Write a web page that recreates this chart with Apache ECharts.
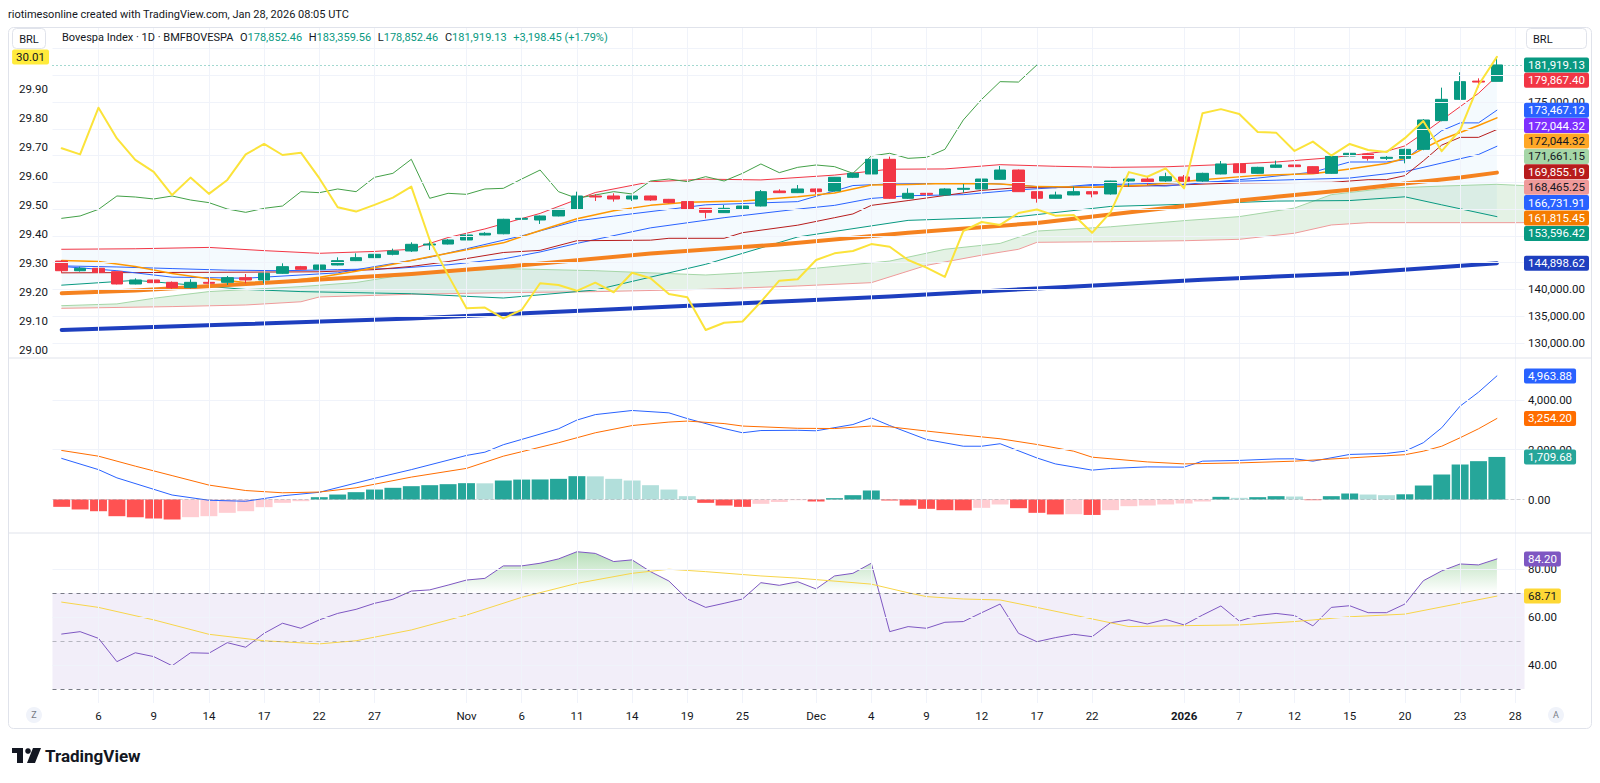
<!DOCTYPE html>
<html lang="en">
<head>
<meta charset="UTF-8">
<title>Bovespa Index · 1D · BMFBOVESPA</title>
<script src="https://cdn.jsdelivr.net/npm/echarts@6.0.0/dist/echarts.min.js"></script>
<style>
  body { margin: 0; padding: 0; background: #fff; }
  #main { width: 1600px; height: 783px; }
</style>
</head>
<body>
<div id="main"></div>
<script type="text/javascript">
// trading days (the last one is the empty slot after the last bar)
var dates = [
  '2025-10-02','2025-10-03','2025-10-06','2025-10-07','2025-10-08','2025-10-09','2025-10-10',
  '2025-10-13','2025-10-14','2025-10-15','2025-10-16','2025-10-17',
  '2025-10-20','2025-10-21','2025-10-22','2025-10-23','2025-10-24',
  '2025-10-27','2025-10-28','2025-10-29','2025-10-30','2025-10-31',
  '2025-11-03','2025-11-04','2025-11-05','2025-11-06','2025-11-07',
  '2025-11-10','2025-11-11','2025-11-12','2025-11-13','2025-11-14',
  '2025-11-17','2025-11-18','2025-11-19','2025-11-21',
  '2025-11-24','2025-11-25','2025-11-26','2025-11-27','2025-11-28',
  '2025-12-01','2025-12-02','2025-12-03','2025-12-04','2025-12-05',
  '2025-12-08','2025-12-09','2025-12-10','2025-12-11','2025-12-12',
  '2025-12-15','2025-12-16','2025-12-17','2025-12-18','2025-12-19',
  '2025-12-22','2025-12-23','2025-12-26','2025-12-29','2025-12-30',
  '2026-01-02','2026-01-05','2026-01-06','2026-01-07','2026-01-08','2026-01-09',
  '2026-01-12','2026-01-13','2026-01-14','2026-01-15','2026-01-16',
  '2026-01-19','2026-01-20','2026-01-21','2026-01-22','2026-01-23',
  '2026-01-26','2026-01-27','2026-01-28'
];
var tickDates = ['2025-10-06','2025-10-09','2025-10-14','2025-10-17','2025-10-22','2025-10-27',
  '2025-11-03','2025-11-06','2025-11-11','2025-11-14','2025-11-19','2025-11-25',
  '2025-12-01','2025-12-04','2025-12-09','2025-12-12','2025-12-17','2025-12-22',
  '2026-01-02','2026-01-07','2026-01-12','2026-01-15','2026-01-20','2026-01-23','2026-01-28'];
var tickTexts = ['6','9','14','17','22','27','Nov','6','11','14','19','25',
  'Dec','4','9','12','17','22','2026','7','12','15','20','23','28'];

// daily candles
var opens = [145300,143500,143950,143320,141020,141770,141330,140340,141330,141330,
  142200,141770,143010,144260,143760,144570,145380,145940,146560,147180,
  148300,148480,149240,150170,150400,153100,152970,153720,154960,157450,
  157450,156890,157450,156830,156400,155150,154340,154960,155580,158380,
  158070,158760,158380,160940,161560,164300,157020,157950,157640,158700,
  158760,160560,162300,158260,157020,157640,158260,157830,160250,160620,
  160250,161000,160250,161560,163430,161680,162800,163240,162930,161680,
  164920,165290,164480,164480,166160,171520,175500,178900,178852.46];
var highs = [145450,144250,144380,143350,142080,142890,141500,141900,142080,142520,
  142890,143100,144880,144400,144700,146000,146750,147680,147620,148800,
  149100,149400,150300,150700,153200,154090,153800,155000,158260,157820,
  157950,157500,157500,156900,156400,155200,155770,155960,158570,158700,
  159500,158820,161000,161800,164400,164800,158880,158880,158900,159690,
  161180,163050,162400,158300,158260,159190,158300,160300,160700,161190,
  161800,161370,161800,163980,163450,162900,164050,163300,163000,165000,
  166040,165500,164980,166300,171800,177680,180540,179420,183359.56];
var lows = [143100,143330,143150,140950,140950,141200,139900,140200,141000,140840,
  141150,141150,142900,143700,143600,144500,145300,145900,146370,147000,
  147370,148400,149100,150100,150300,152950,152230,153650,154900,156520,
  156400,156520,156520,156100,154900,153280,154300,154650,155500,158000,
  158000,157830,158300,160800,161500,156900,156900,154960,157500,158070,
  158700,160500,158200,156210,156950,157600,157200,157700,159200,159500,
  160100,159800,160100,161500,161700,161600,162700,162300,161600,161600,
  164800,164050,164170,163550,166000,171400,175400,177740,178852.46];
var closes = [143500,143950,143200,141020,141770,141270,140340,141330,141150,142200,
  141770,143010,144260,143760,144570,145380,145940,146560,147180,148430,
  148480,149240,150170,150480,153100,153280,153720,154960,157450,157260,
  156890,157450,156700,156210,155020,154400,155150,155580,158260,158070,
  158760,158260,160940,161680,164300,157020,157950,157760,158760,158880,
  160620,162300,158260,157020,157640,158260,157830,160250,160620,160130,
  161060,160250,161680,163430,161810,162800,163240,162930,161680,164920,
  165420,164480,164670,166160,171640,175500,178800,178720.68,181919.13];

// yellow overlay on the left scale
var overlay = [29.695,29.674,29.835,29.729,29.655,29.614,29.534,29.594,29.538,29.586,
  29.674,29.710,29.672,29.680,29.592,29.492,29.477,29.500,29.525,29.563,
  29.379,29.258,29.144,29.146,29.109,29.138,29.230,29.224,29.204,29.232,
  29.199,29.266,29.247,29.193,29.182,29.069,29.094,29.098,29.166,29.239,
  29.244,29.310,29.333,29.341,29.365,29.356,29.310,29.284,29.252,29.410,
  29.441,29.431,29.472,29.484,29.463,29.465,29.404,29.474,29.613,29.597,
  29.626,29.557,29.816,29.830,29.813,29.751,29.749,29.686,29.718,29.670,
  29.710,29.689,29.682,29.730,29.789,29.685,29.758,29.913,30.01];

// indicator lines, [bar index, value]
var bbUpper = [[0,147500],[4,147600],[8,147850],[11,147250],[14,146750],[17,147100],[19,147500],[21,149700],[23,151300],[26,154200],[29,158100],[32,160100],[35,160600],[38,160450],[42,161350],[45,162450],[48,162500],[51,163300],[54,163000],[57,162800],[60,162900],[63,163300],[66,163800],[69,164600],[72,165800],[73,166800],[74,169150],[75,171640],[76,174130],[77,176620],[78,179867]];
var bbBasis = [[0,144400],[3,144200],[6,143900],[9,143600],[12,143500],[15,143700],[18,143900],[21,144600],[24,145700],[26,147000],[28,148600],[32,151500],[36,153400],[40,155000],[42,155700],[44,157000],[46,157500],[49,157700],[52,158600],[57,159600],[61,159950],[66,160400],[70,160800],[73,162000],[75,163600],[77,165200],[78,166732]];
var bbLower = [[0,140800],[4,141700],[10,140000],[13,139600],[19,139200],[24,138400],[29,139900],[35,144700],[40,149800],[46,152900],[52,153600],[57,155500],[61,155900],[66,156500],[70,156600],[73,157300],[75,155800],[78,153596]];
var tenkan = [[0,144300],[3,143500],[6,142300],[10,142100],[15,143100],[20,146000],[25,150000],[28,152800],[30,153700],[35,155800],[40,156400],[43,159400],[45,159700],[50,159900],[54,159000],[56,159600],[60,159300],[65,160800],[68,161900],[70,163800],[72,163800],[73,164200],[74,167000],[75,169650],[76,171100],[77,171100],[78,173467]];
var kijun = [[0,143100],[8,143200],[14,143300],[17,143700],[19,144300],[21,145200],[24,146900],[26,147300],[28,149100],[32,149200],[33,149550],[36,149550],[37,150600],[40,152000],[42,153400],[43,154100],[44,155700],[46,156600],[50,158500],[52,159000],[56,159050],[61,159550],[64,159900],[69,160000],[71,160500],[72,160500],[73,161250],[74,164000],[75,166950],[76,168400],[77,168400],[78,169855]];
var leadA = [[0,136970],[3,137300],[5,138350],[6,138780],[8,139600],[13,140530],[16,141300],[18,142400],[21,143300],[24,143900],[29,143500],[35,142700],[40,143640],[45,145300],[48,147500],[51,148600],[53,150900],[57,151700],[61,152850],[64,153600],[67,155200],[69,157700],[72,158900],[75,159300],[78,159630],[80,159300]];
var leadB = [[0,136480],[6,136800],[10,137100],[13,137700],[14,138600],[19,139100],[24,139400],[29,139590],[35,140030],[40,140650],[44,141270],[47,144500],[50,146400],[52,147500],[53,148800],[57,148920],[61,149100],[64,149360],[67,150500],[69,152040],[71,152470],[80,152470]];
var emaFast = [[0,145400],[2,145200],[4,144300],[6,143000],[8,142000],[10,141300],[12,141500],[14,142300],[16,143400],[18,144700],[20,146100],[22,147400],[24,148700],[26,151000],[28,153200],[30,154700],[32,155700],[34,156300],[37,156500],[40,157300],[42,158000],[44,159500],[46,159600],[48,159800],[51,159700],[53,159200],[56,159100],[59,159500],[62,160500],[65,161300],[68,161600],[70,162500],[72,163500],[73,164500],[74,166300],[75,168000],[76,169300],[77,170600],[78,172044]];
var sma50 = [[0,139300],[4,139800],[10,141000],[19,142900],[25,144500],[32,146700],[39,148400],[46,150600],[53,152400],[61,155600],[66,157300],[70,158600],[73,159800],[76,160900],[78,161815]];
var sma200 = [[0,132450],[10,133550],[19,134600],[30,136300],[40,137900],[45,138700],[53,140200],[62,141800],[70,143000],[78,144899]];
var laggingShift = 25;

// MACD pane
var macdLine = [[0,1650],[2,1200],[3,870],[6,180],[8,-30],[10,-70],[12,150],[14,290],[17,850],[19,1200],[22,1770],[23,1900],[24,2200],[27,2840],[28,3190],[29,3410],[31,3575],[33,3480],[34,3250],[36,2850],[37,2680],[38,2770],[40,2780],[41,2760],[43,3010],[44,3280],[45,2970],[47,2410],[49,2140],[50,2140],[51,2240],[53,1670],[54,1430],[56,1180],[57,1245],[59,1310],[61,1300],[62,1540],[64,1570],[66,1630],[67,1635],[68,1540],[70,1810],[72,1850],[73,1940],[74,2280],[75,2880],[76,3750],[77,4310],[78,4963.88]];
var macdSignal = [[0,1970],[2,1740],[4,1340],[6,960],[8,580],[10,360],[12,270],[14,300],[16,470],[19,900],[22,1250],[24,1740],[27,2280],[29,2680],[31,2970],[33,3110],[34,3150],[36,3050],[37,2950],[40,2860],[42,2850],[44,2950],[45,2920],[47,2750],[49,2590],[51,2440],[53,2210],[55,1940],[56,1700],[59,1510],[61,1430],[64,1470],[67,1540],[70,1670],[73,1800],[74,1940],[75,2140],[76,2480],[77,2840],[78,3254.2]];
var macdHist = [-295,-400,-470,-670,-710,-763,-803,-710,-670,-535,
  -470,-308,-134,-67,94,200,295,400,470,535,
  575,616,656,650,763,800,805,830,937,930,
  830,763,575,400,134,-134,-241,-295,-174,-100,
  -27,-80,54,174,362,-40,-241,-375,-428,-435,
  -335,-200,-348,-535,-600,-590,-620,-428,-268,-241,
  -200,-160,-80,107,67,94,134,120,-27,134,
  241,200,174,210,562,1004,1406,1540,1709.68];

// RSI pane
var rsi = [52.9,53.9,51.1,41.4,45.1,43.5,39.7,45.1,44.9,49.3,
  47.4,53.2,57.4,55.3,58.8,61.5,63.2,65.7,67.4,70.8,
  71.3,73.3,75.4,76.1,81.3,81.3,82.4,84.2,87.2,86.5,
  83.1,83.8,78.9,75.0,67.5,64.0,65.7,67.5,74.3,73.2,
  74.7,71.7,77.1,78.2,82.4,53.9,56.0,55.3,57.8,58.1,
  61.8,65.4,53.2,49.7,51.4,52.8,51.8,57.6,58.8,57.1,
  59.0,56.7,60.8,64.6,58.3,60.6,61.5,60.6,56.3,64.0,
  64.7,61.8,61.8,65.4,75.1,79.2,82.1,81.7,84.2];
var rsiMa = [[0,66.2],[2,64.0],[5,58.8],[8,52.8],[11,50.1],[14,48.8],[16,50.1],[19,54.6],[22,60.8],[25,68.2],[28,74.0],[31,78.2],[33,79.9],[35,78.9],[38,77.1],[40,76.2],[44,73.7],[46,70.1],[47,68.5],[49,67.5],[51,67.1],[53,64.0],[55,60.8],[58,56.0],[61,56.4],[64,56.7],[67,58.1],[70,60.1],[73,61.2],[76,65.7],[78,68.71]];

// scale levels and price tags
var priceGridLevels = [130000,135000,140000,145000,150000,155000,160000,165000,170000,175000,180000,185000];
var priceAxisLabels = [130000,135000,140000,175000];
var leftAxisLabels = [29.0,29.1,29.2,29.3,29.4,29.5,29.6,29.7,29.8,29.9];
var macdGridLevels = [2000,4000];
var macdAxisLabels = [0,2000,4000];
var rsiGridLevels = [40,60,80];
var rsiAxisLabels = [40,60,80];
var priceTags = [
  [181919.13,'#089981','#ffffff'],[179867.40,'#F23645','#ffffff'],[173467.12,'#2962FF','#ffffff'],
  [172044.32,'#7E2FFF','#ffffff'],[172044.32,'#FFA726','#131722'],[171661.15,'#A5D6A7','#131722'],
  [169855.19,'#B71C1C','#ffffff'],[168465.25,'#EF9A9A','#131722'],[166731.91,'#2962FF','#ffffff'],
  [161815.45,'#F57C00','#ffffff'],[153596.42,'#089981','#ffffff'],[144898.62,'#1E3FBF','#ffffff']];
var macdTags = [[4963.88,'#2962FF','#ffffff'],[3254.20,'#FF6D00','#ffffff'],[1709.68,'#26A69A','#ffffff']];
var rsiTags = [[84.20,'#7E57C2','#ffffff'],[68.71,'#FDD835','#131722']];
var overlayTag = [30.01,'#FFEB3B','#131722'];

var FONT = 'Roboto, "Liberation Sans", sans-serif';
var GRID_COLOR = '#f0f3fa';

function fmt(v) { return v.toLocaleString('en-US', {minimumFractionDigits: 2, maximumFractionDigits: 2}); }
function indexed(arr) { return arr.map(function (v, i) { return [i, v]; }); }

function lineSeries(name, data, color, width, z, yIdx, gIdx) {
  return {
    name: name, type: 'line', data: data, xAxisIndex: gIdx || 0, yAxisIndex: yIdx || 0,
    symbol: 'none', z: z, silent: true, animation: false, connectNulls: true,
    lineStyle: {color: color, width: width, cap: 'round', join: 'round'}, itemStyle: {color: color}
  };
}

function bandSeries(upper, lower, fill) {
  return {
    type: 'custom', xAxisIndex: 0, yAxisIndex: 0, z: 1, silent: true, animation: false,
    data: [[0, upper[0][1]]],
    renderItem: function (params, api) {
      var pts = upper.map(function (p) { return api.coord(p); })
        .concat(lower.slice().reverse().map(function (p) { return api.coord(p); }));
      var cs = params.coordSys;
      return {
        type: 'polygon', shape: {points: pts}, style: {fill: fill},
        clipPath: {type: 'rect', shape: {x: cs.x, y: cs.y, width: cs.width, height: cs.height}}
      };
    }
  };
}

function gridHelper(gIdx, yIdx, levels) {
  var d = levels.map(function (v) { return {yAxis: v}; })
    .concat(tickDates.map(function (t) { return {xAxis: t}; }));
  return {
    type: 'line', xAxisIndex: gIdx, yAxisIndex: yIdx, data: [], z: 0, silent: true, animation: false,
    markLine: {symbol: ['none', 'none'], silent: true, animation: false, label: {show: false},
      lineStyle: {color: GRID_COLOR, width: 1, type: 'solid'}, data: d}
  };
}

function histColor(i) {
  var v = macdHist[i], prev = i > 0 ? macdHist[i - 1] : 0;
  if (v >= 0) return v > prev ? '#26A69A' : '#B2DFDB';
  return v < prev ? '#FF5252' : '#FFCDD2';
}

var lagging = closes.slice(laggingShift).map(function (v, i) { return [i, v]; });
var candleData = opens.map(function (o, i) { return [o, closes[i], lows[i], highs[i]]; });
var lastPrice = closes[closes.length - 1];

var chart = echarts.init(document.getElementById('main'), null, {renderer: 'svg', width: 1600, height: 783});

var gridBox = {left: 52.5, width: 1472};
var xBase = {type: 'category', data: dates, boundaryGap: true, axisLine: {show: false}, axisTick: {show: false},
  axisLabel: {show: false}, splitLine: {show: false}};

var series = [
  gridHelper(0, 0, priceGridLevels),
  bandSeries(leadA, leadB, 'rgba(67,160,71,0.14)'),
  bandSeries(bbUpper, bbLower, 'rgba(33,150,243,0.05)'),
  lineSeries('Leading Span A', leadA, '#A5D6A7', 1, 2),
  lineSeries('Leading Span B', leadB, '#EF9A9A', 1, 2),
  lineSeries('BB Upper', bbUpper, '#F23645', 1, 2),
  lineSeries('BB Lower', bbLower, '#089981', 1, 2),
  lineSeries('BB Basis', bbBasis, '#2962FF', 1, 2),
  lineSeries('Base Line', kijun, '#B71C1C', 1, 2),
  lineSeries('Conversion Line', tenkan, '#2962FF', 1, 2),
  lineSeries('Lagging Span', lagging, '#43A047', 1, 2),
  lineSeries('EMA', emaFast, '#FF9800', 1.5, 3),
  lineSeries('SMA 50', sma50, '#F5821F', 4, 3),
  lineSeries('SMA 200', sma200, '#1E3FBF', 4, 3),
  {
    name: 'Bovespa Index', type: 'candlestick', xAxisIndex: 0, yAxisIndex: 0, data: candleData,
    barWidth: 12, z: 4, animation: false, silent: true, clip: false,
    itemStyle: {color: '#089981', color0: '#F23645', borderColor: '#089981', borderColor0: '#F23645', borderWidth: 1},
    markLine: {symbol: ['none', 'none'], silent: true, animation: false, label: {show: false},
      lineStyle: {color: 'rgba(8,153,129,0.75)', type: [1, 3], width: 1}, data: [{yAxis: lastPrice}]}
  },
  lineSeries('Overlay', indexed(overlay), '#FBE33A', 2, 5, 1),
  gridHelper(1, 2, macdGridLevels),
  {
    name: 'Histogram', type: 'bar', xAxisIndex: 1, yAxisIndex: 2, barCategoryGap: '8%', z: 2,
    animation: false, silent: true,
    data: macdHist.map(function (v, i) { return {value: v, itemStyle: {color: histColor(i)}}; }),
    markLine: {symbol: ['none', 'none'], silent: true, animation: false, label: {show: false},
      lineStyle: {color: 'rgba(120,123,134,0.35)', type: 'dashed', width: 1}, data: [{yAxis: 0}]}
  },
  lineSeries('MACD', macdLine, '#2962FF', 1, 3, 2, 1),
  lineSeries('Signal', macdSignal, '#FF6D00', 1, 3, 2, 1),
  gridHelper(2, 3, rsiGridLevels)
];

var rsiFill = lineSeries('RSI fill', indexed(rsi), 'rgba(0,0,0,0)', 0, 1, 3, 2);
rsiFill.lineStyle.opacity = 0;
rsiFill.areaStyle = {origin: 70, opacity: 1};
series.push(rsiFill);
var rsiFillIndex = series.length - 1;

var rsiLine = lineSeries('RSI', indexed(rsi), '#7E57C2', 1, 3, 3, 2);
rsiLine.markArea = {silent: true, animation: false, itemStyle: {color: 'rgba(126,87,194,0.1)'},
  data: [[{yAxis: 30}, {yAxis: 70}]]};
rsiLine.markLine = {symbol: ['none', 'none'], silent: true, animation: false, label: {show: false},
  data: [
    {yAxis: 70, lineStyle: {color: '#787B86', type: [4, 4], width: 1}},
    {yAxis: 50, lineStyle: {color: 'rgba(120,123,134,0.5)', type: [4, 4], width: 1}},
    {yAxis: 30, lineStyle: {color: '#787B86', type: [4, 4], width: 1}}
  ]};
series.push(rsiLine);
series.push(lineSeries('RSI-based MA', rsiMa, '#F7D54A', 1, 3, 3, 2));

var option = {
  backgroundColor: '#ffffff',
  animation: false,
  textStyle: {fontFamily: FONT},
  grid: [
    {left: gridBox.left, width: gridBox.width, top: 28, height: 330},
    {left: gridBox.left, width: gridBox.width, top: 358, height: 175},
    {left: gridBox.left, width: gridBox.width, top: 533, height: 170}
  ],
  xAxis: [
    Object.assign({}, xBase, {gridIndex: 0}),
    Object.assign({}, xBase, {gridIndex: 1}),
    Object.assign({}, xBase, {gridIndex: 2, axisLabel: {
      show: true, margin: 7, color: '#131722', fontSize: 11.5, fontFamily: FONT,
      interval: function (i, v) { return tickDates.indexOf(v) >= 0; },
      formatter: function (v) {
        var t = tickTexts[tickDates.indexOf(v)];
        return t === '2026' ? '{b|' + t + '}' : t;
      },
      rich: {b: {fontWeight: 'bold', fontSize: 11.5, color: '#131722', fontFamily: FONT}}
    }})
  ],
  yAxis: [
    {type: 'value', gridIndex: 0, position: 'right', min: 127203, max: 188816, show: false, splitLine: {show: false}},
    {type: 'value', gridIndex: 0, position: 'left', min: 28.9724, max: 30.1096, show: false, splitLine: {show: false}},
    {type: 'value', gridIndex: 1, position: 'right', min: -1345, max: 5683, show: false, splitLine: {show: false}},
    {type: 'value', gridIndex: 2, position: 'right', min: 24.17, max: 95, show: false, splitLine: {show: false}}
  ],
  visualMap: [{
    type: 'continuous', show: false, seriesIndex: rsiFillIndex, dimension: 1, min: 70, max: 100,
    inRange: {color: ['rgba(76,175,80,0)', 'rgba(76,175,80,0.7)']},
    outOfRange: {color: 'rgba(76,175,80,0)'}
  }],
  series: series
};
chart.setOption(option);

// scale labels, tags and frame
var g = [];
function text(x, y, s, o) {
  var st = Object.assign({text: s, fill: '#131722', font: '11.5px ' + FONT, verticalAlign: 'middle', align: 'left'}, o || {});
  return {type: 'text', x: x, y: y, style: st, silent: true, z: 50};
}
function tagEl(x, y, s, bg, fg, align) {
  return text(x, y, s, {fill: fg, backgroundColor: bg, padding: [2, 4, 1, 4], borderRadius: 2, align: align || 'left'});
}
function py(axis, v) { return chart.convertToPixel({yAxisIndex: axis}, v); }

g.push({type: 'rect', shape: {x: 8.5, y: 27.5, width: 1583, height: 701, r: 5}, style: {fill: 'none', stroke: '#e0e3eb', lineWidth: 1}, silent: true, z: 40});
g.push({type: 'line', shape: {x1: 9, y1: 358, x2: 1591, y2: 358}, style: {stroke: '#e0e3eb', lineWidth: 1}, silent: true, z: 40});
g.push({type: 'line', shape: {x1: 9, y1: 533, x2: 1591, y2: 533}, style: {stroke: '#e0e3eb', lineWidth: 1}, silent: true, z: 40});

g.push(text(8, 14, 'riotimesonline created with TradingView.com, Jan 28, 2026 08:05 UTC', {font: '11px ' + FONT}));

// BRL boxes
g.push({type: 'rect', shape: {x: 12.5, y: 28.5, width: 33, height: 20, r: 4}, style: {fill: '#ffffff', stroke: '#e0e3eb'}, silent: true, z: 45});
g.push(text(29, 39, 'BRL', {align: 'center', font: '11px ' + FONT}));
g.push({type: 'rect', shape: {x: 1526.5, y: 28.5, width: 60, height: 20, r: 4}, style: {fill: '#ffffff', stroke: '#e0e3eb'}, silent: true, z: 45});
g.push(text(1533, 39, 'BRL', {font: '11px ' + FONT}));

// legend
var n = closes.length - 1;
var chg = closes[n] - closes[n - 1];
var pct = chg / closes[n - 1] * 100;
g.push({type: 'text', x: 62, y: 37, silent: true, z: 50, style: {
  text: '{t|Bovespa Index · 1D · BMFBOVESPA}  {t|O}{v|' + fmt(opens[n]) + '}  {t|H}{v|' + fmt(highs[n]) +
    '}  {t|L}{v|' + fmt(lows[n]) + '}  {t|C}{v|' + fmt(closes[n]) + '}  {v|+' + fmt(chg) + ' (+' + pct.toFixed(2) + '%)}',
  verticalAlign: 'middle',
  rich: {t: {fill: '#131722', fontSize: 11, fontFamily: FONT}, v: {fill: '#089981', fontSize: 11, fontFamily: FONT}}
}});

// left scale
leftAxisLabels.forEach(function (v) { g.push(text(48, py(1, v), v.toFixed(2), {align: 'right'})); });
g.push(tagEl(49, py(1, overlayTag[0]), overlayTag[0].toFixed(2), overlayTag[1], overlayTag[2], 'right'));

// right scale, price pane
priceAxisLabels.forEach(function (v) { g.push(text(1528, py(0, v), fmt(v))); });
var prevY = -1e9;
priceTags.forEach(function (t) {
  var y = Math.max(py(0, t[0]), prevY + 15.4);
  prevY = y;
  g.push(tagEl(1524, y, fmt(t[0]), t[1], t[2]));
});

// MACD scale
macdAxisLabels.forEach(function (v) { g.push(text(1528, py(2, v), fmt(v))); });
macdTags.forEach(function (t) { g.push(tagEl(1524, py(2, t[0]), fmt(t[0]), t[1], t[2])); });

// RSI scale
rsiAxisLabels.forEach(function (v) { g.push(text(1528, py(3, v), fmt(v))); });
rsiTags.forEach(function (t) { g.push(tagEl(1524, py(3, t[0]), fmt(t[0]), t[1], t[2])); });

// scale mode buttons
g.push({type: 'circle', shape: {cx: 34, cy: 715, r: 8}, style: {fill: '#f0f3fa'}, silent: true, z: 45});
g.push(text(34, 715, 'Z', {align: 'center', fill: '#787b86', font: '9px ' + FONT}));
g.push({type: 'circle', shape: {cx: 1556, cy: 715, r: 8}, style: {fill: '#f0f3fa'}, silent: true, z: 45});
g.push(text(1556, 715, 'A', {align: 'center', fill: '#787b86', font: '9px ' + FONT}));

// TradingView mark
g.push({type: 'rect', shape: {x: 12, y: 748, width: 11, height: 5}, style: {fill: '#131722'}, silent: true, z: 45});
g.push({type: 'rect', shape: {x: 17, y: 748, width: 6, height: 15}, style: {fill: '#131722'}, silent: true, z: 45});
g.push({type: 'circle', shape: {cx: 28, cy: 751, r: 2.8}, style: {fill: '#131722'}, silent: true, z: 45});
g.push({type: 'polygon', shape: {points: [[33, 748], [41, 748], [35, 763], [27, 763]]}, style: {fill: '#131722'}, silent: true, z: 45});
g.push(text(45, 756, 'TradingView', {font: 'bold 17px ' + FONT}));

chart.setOption({graphic: g});
</script>
</body>
</html>
